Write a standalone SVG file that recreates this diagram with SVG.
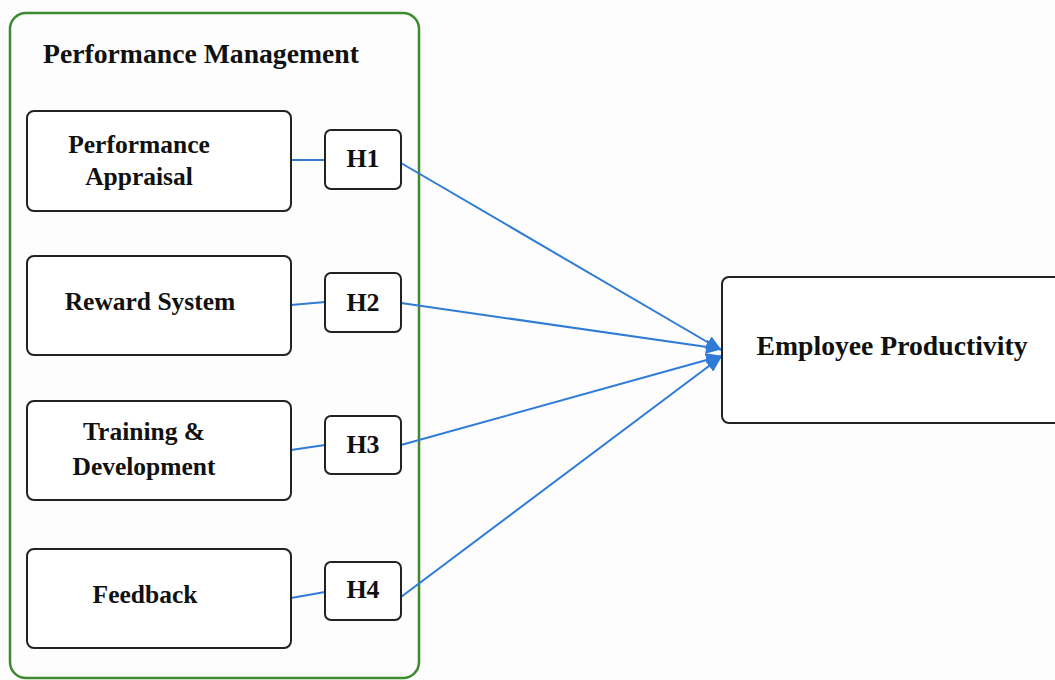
<svg xmlns="http://www.w3.org/2000/svg" width="1055" height="680" viewBox="0 0 1055 680">
<style>
.box{fill:#fff;stroke:#222;stroke-width:2}
.t{font-family:"Liberation Serif",serif;font-weight:bold;fill:#111;text-anchor:middle}
.c{stroke:#2f7bd6;stroke-width:2;fill:none}
</style>
<defs>
<marker id="ah" markerWidth="16" markerHeight="14" refX="15" refY="7" orient="auto" markerUnits="userSpaceOnUse">
<path d="M0,0 L16,7 L0,14 Z" fill="#2f7bd6"/>
</marker>
</defs>
<rect width="1055" height="680" fill="#fdfdfd"/>
<g id="container">
<rect x="10" y="13" width="409" height="665" rx="16" fill="none" stroke="#3d8b2f" stroke-width="2.5"/>
<text x="43" y="63" class="t" style="text-anchor:start;font-size:27.7px">Performance Management</text>
</g>
<g id="connectors">
<line class="c" x1="291" y1="160" x2="325" y2="160"/>
<line class="c" x1="291" y1="305" x2="325" y2="302"/>
<line class="c" x1="291" y1="450" x2="325" y2="445"/>
<line class="c" x1="291" y1="598" x2="325" y2="592"/>
<line class="c" x1="401" y1="163" x2="721" y2="350" marker-end="url(#ah)"/>
<line class="c" x1="401" y1="303" x2="721" y2="349" marker-end="url(#ah)"/>
<line class="c" x1="401" y1="445" x2="721" y2="356" marker-end="url(#ah)"/>
<line class="c" x1="401" y1="597" x2="721" y2="357" marker-end="url(#ah)"/>
</g>
<g id="n1">
<rect class="box" x="27" y="111" width="264" height="100" rx="7"/>
<text class="t" x="139" y="153" font-size="25.5">Performance</text>
<text class="t" x="139" y="185" font-size="25.5">Appraisal</text>
</g>
<g id="n2">
<rect class="box" x="27" y="256" width="264" height="99" rx="7"/>
<text class="t" x="150" y="310" font-size="25.5">Reward System</text>
</g>
<g id="n3">
<rect class="box" x="27" y="401" width="264" height="99" rx="7"/>
<text class="t" x="144" y="440" font-size="25.5">Training &amp;</text>
<text class="t" x="144" y="475" font-size="25.5">Development</text>
</g>
<g id="n4">
<rect class="box" x="27" y="549" width="264" height="99" rx="7"/>
<text class="t" x="145" y="603" font-size="25.5">Feedback</text>
</g>
<g id="h1">
<rect class="box" x="325" y="130" width="76" height="59" rx="6"/>
<text class="t" x="363" y="167" font-size="26">H1</text>
</g>
<g id="h2">
<rect class="box" x="325" y="273" width="76" height="59" rx="6"/>
<text class="t" x="363" y="311" font-size="26">H2</text>
</g>
<g id="h3">
<rect class="box" x="325" y="416" width="76" height="58" rx="6"/>
<text class="t" x="363" y="453" font-size="26">H3</text>
</g>
<g id="h4">
<rect class="box" x="325" y="562" width="76" height="58" rx="6"/>
<text class="t" x="363" y="598" font-size="26">H4</text>
</g>
<g id="ep">
<rect class="box" x="722" y="277" width="345" height="146" rx="7"/>
<text class="t" x="892" y="355" font-size="27.7">Employee Productivity</text>
</g>
</svg>
